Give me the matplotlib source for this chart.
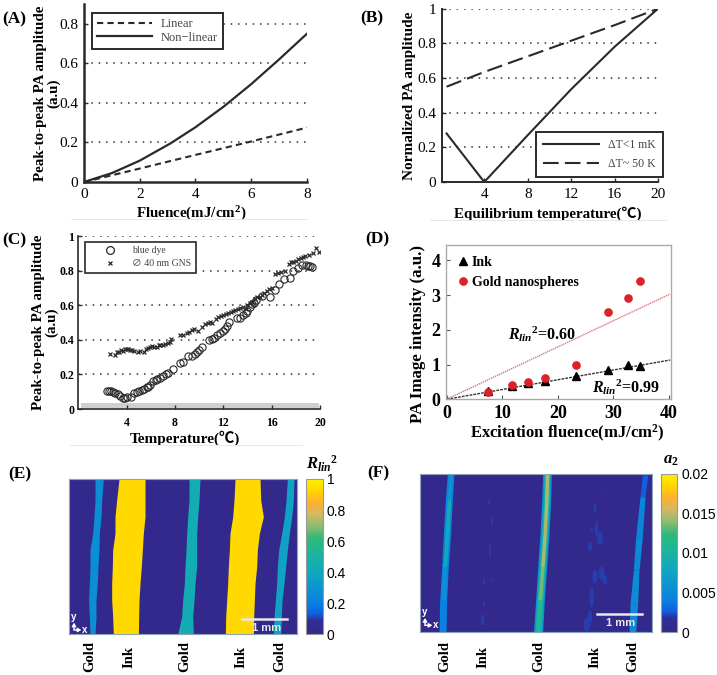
import matplotlib
matplotlib.use('Agg')
import matplotlib.pyplot as plt
from matplotlib.colors import LinearSegmentedColormap
from matplotlib.lines import Line2D
from matplotlib.cm import ScalarMappable
from matplotlib.colors import Normalize
from matplotlib.patches import Rectangle, Ellipse

plt.rcParams['font.family'] = ['Liberation Serif', 'Noto Sans CJK SC', 'DejaVu Sans']
plt.rcParams['mathtext.fontset'] = 'custom'
plt.rcParams['mathtext.rm'] = 'Liberation Serif:bold'
plt.rcParams['mathtext.it'] = 'Liberation Serif:italic:bold'
plt.rcParams['mathtext.bf'] = 'Liberation Serif:bold'

W, H = 717, 675
DARK = '#2a2a2a'

# (A)
a_x_lin = [0, 2, 4, 6, 8]
a_y_lin = [0, 0.068, 0.137, 0.205, 0.275]
a_x_non = [0, 1, 2, 3.1, 4, 5, 6, 7, 8]
a_y_non = [0, 0.045, 0.108, 0.195, 0.277, 0.38, 0.495, 0.62, 0.75]

# (B)
b_x_solid = [0.53, 4, 8, 12, 16, 20]
b_y_solid = [0.28, 0, 0.27, 0.535, 0.78, 1]
b_x_dash = [0.53, 4, 8, 12, 16, 20]
b_y_dash = [0.55, 0.635, 0.725, 0.815, 0.905, 1]

# (C)
c_x_dye = [2.35, 2.5, 2.7, 2.85, 3.05, 3.25, 3.45, 3.67, 3.85, 4.05, 4.35, 4.65, 4.85, 5.05, 5.25, 5.4, 5.65,
           5.8, 5.95, 6.2, 6.4, 6.55, 6.8, 7, 7.25, 7.45, 7.8, 8.4, 8.65, 9.05, 9.4, 9.65, 9.85, 10, 10.2,
           10.85, 11.05, 11.25, 11.5, 11.75, 12, 12.15, 12.3, 12.45, 13.1, 13.35, 13.65, 13.85, 14, 14.2,
           14.4, 14.55, 14.7, 15.2, 15.9, 16.3, 16.6, 17, 17.5, 17.8, 18.2, 18.5, 18.85, 19.0, 19.15, 19.35]
c_y_dye = [0.106, 0.106, 0.104, 0.10, 0.095, 0.085, 0.075, 0.065, 0.063, 0.068, 0.07, 0.09, 0.097, 0.105,
           0.108, 0.115, 0.125, 0.13, 0.14, 0.16, 0.165, 0.175, 0.18, 0.19, 0.2, 0.21, 0.23, 0.265, 0.27,
           0.305, 0.305, 0.32, 0.33, 0.34, 0.36, 0.40, 0.405, 0.41, 0.43, 0.44, 0.45, 0.465, 0.48, 0.505,
           0.525, 0.525, 0.545, 0.555, 0.565, 0.59, 0.605, 0.615, 0.63, 0.655, 0.65, 0.69, 0.725, 0.75,
           0.76, 0.795, 0.815, 0.83, 0.83, 0.828, 0.825, 0.82]
c_x_gns = [2.6, 3.0, 3.2, 3.4, 3.55, 3.7, 3.85, 4.0, 4.15, 4.3, 4.45, 4.6, 4.9, 5.1, 5.4, 5.6, 5.75, 5.9, 6.1, 6.3,
           6.5, 6.65, 6.8, 7.0, 7.2, 7.4, 7.55, 7.7, 8.4, 8.7, 9.0, 9.2, 9.4, 9.6, 9.9, 10.2, 10.5, 10.7, 10.9, 11.1,
           11.4, 11.6, 11.8, 12.0, 12.2, 12.4, 12.6, 12.8, 13.0, 13.2, 13.4, 13.6, 13.85, 14.0, 14.2, 14.4, 14.6,
           14.8, 15.0, 15.2, 15.4, 15.6, 15.8, 16.05, 16.3, 16.5, 16.8, 17.1, 17.4, 17.6, 17.8, 18.0, 18.2, 18.4,
           18.6, 18.8, 19.1, 19.4, 19.7, 19.9]
c_y_gns = [0.32, 0.31, 0.33, 0.33, 0.34, 0.335, 0.345, 0.345, 0.345, 0.34, 0.34, 0.335, 0.33, 0.335, 0.33, 0.345,
           0.35, 0.36, 0.365, 0.36, 0.36, 0.37, 0.37, 0.37, 0.375, 0.38, 0.39, 0.405, 0.43, 0.425, 0.44, 0.445,
           0.455, 0.46, 0.45, 0.475, 0.49, 0.50, 0.505, 0.495, 0.52, 0.53, 0.54, 0.545, 0.55, 0.555, 0.56, 0.565,
           0.575, 0.58, 0.585, 0.59, 0.58, 0.60, 0.61, 0.62, 0.635, 0.645, 0.65, 0.66, 0.67, 0.68, 0.695, 0.70,
           0.78, 0.785, 0.79, 0.80, 0.84, 0.85, 0.85, 0.855, 0.865, 0.875, 0.88, 0.885, 0.89, 0.90, 0.93, 0.91]

# (D)
d_x = [7.5, 11.7, 14.6, 17.7, 23.3, 29, 32.6, 34.8]
d_ink = [0.25, 0.38, 0.46, 0.52, 0.68, 0.84, 1.0, 0.96]
d_gold = [0.2, 0.4, 0.5, 0.6, 1.0, 2.5, 2.92, 3.4]
d_fit_x = [0, 40.2]
d_fit_ink = [0, 1.13]
d_fit_gold = [0, 3.03]

# (E) stripe edges, read in picture units
e_rows = [87, 150, 200, 250, 300, 350, 400, 450, 500, 553]
e_gold1 = ([285, 285, 282, 278, 270, 270, 268, 266, 268, 270], [310, 305, 303, 298, 297, 294, 292, 288, 288, 285])
e_ink1 = ([357, 350, 345, 345, 338, 337, 335, 335, 338, 340], [435, 435, 435, 430, 427, 424, 420, 417, 416, 415])
e_gold2 = ([567, 567, 563, 560, 558, 555, 553, 548, 545, 533], [600, 597, 593, 590, 590, 590, 585, 582, 578, 580])
e_ink2 = ([705, 702, 698, 690, 688, 685, 683, 680, 677, 676], [780, 782, 790, 778, 772, 770, 765, 763, 761, 760])
e_gold3 = ([862, 858, 853, 845, 836, 832, 830, 826, 822, 820], [882, 880, 875, 868, 862, 857, 852, 846, 844, 842])
e_values = [0.27, 0.93, 0.44, 0.93, 0.37]
e_labels = ['Gold', 'Ink', 'Gold', 'Ink', 'Gold']
e_label_x = [270, 388, 553, 722, 838]
e_ticks = [0, 0.2, 0.4, 0.6, 0.8, 1]
e_ticklabels = ['0', '0.2', '0.4', '0.6', '0.8', '1']

# (F) stripe edges, with one colour per stretch between rows
f_rows = [71, 150, 250, 350, 450, 546]
f_gold1 = ([262, 256, 250, 245, 239, 237], [282, 277, 272, 265, 260, 258])
f_gold1_core = ([267, 261, 255, 249, 243, 242], [277, 272, 267, 260, 256, 253])
f_gold1_vals = [0.006, 0.0085, 0.008, 0.0055, 0.004]
f_gold2 = ([548, 545, 540, 533, 527, 520], [574, 572, 567, 560, 553, 548])
f_gold2_mid = ([552, 550, 545, 538, 530, 525], [570, 568, 563, 556, 549, 544])
f_gold2_core = ([556, 554, 549, 542, 534, 530], [566, 564, 559, 552, 545, 538])
f_gold2_vals = [0.0145, 0.0145, 0.0145, 0.0135, 0.011]
f_gold3_rows = [75, 140, 260, 360, 460, 546]
f_gold3 = ([847, 840, 827, 820, 810, 807], [863, 855, 847, 837, 833, 827])
f_gold3_vals = [0.0026, 0.0045, 0.005, 0.0052, 0.005]
f_speck_x = [387, 395, 390, 362, 373, 393, 373, 368, 735, 705, 695, 710, 720, 690, 725, 735, 705, 695, 680, 690]
f_speck_y = [155, 210, 300, 282, 395, 390, 460, 510, 130, 175, 240, 235, 265, 290, 370, 390, 380, 440, 525, 500]
f_speck_w = [10, 4, 5, 3, 8, 5, 6, 10, 4, 8, 8, 10, 20, 14, 18, 12, 16, 14, 20, 14]
f_speck_h = [16, 40, 50, 6, 20, 8, 18, 34, 8, 30, 10, 50, 40, 30, 40, 30, 40, 60, 40, 40]
f_labels = ['Gold', 'Ink', 'Gold', 'Ink', 'Gold']
f_label_x = [255, 370, 535, 705, 818]
f_ticks = [0, 0.005, 0.01, 0.015, 0.02]
f_ticklabels = ['0', '0.005', '0.01', '0.015', '0.02']

cbar_pos = [0, 0.09, 0.13, 0.2, 0.4, 0.55, 0.62, 0.7, 0.78, 0.85, 0.92, 1]
cbar_col = ['#33298c', '#2f2f96', '#1060e0', '#0a80e0', '#10a8c0', '#20b890', '#30b878', '#90bc70',
            '#d8b860', '#fdb030', '#ffd400', '#fff000']
cmap = LinearSegmentedColormap.from_list('parula_like', list(zip(cbar_pos, cbar_col)))


def ax_px(l, t, r, b):
    return fig.add_axes([l / W, 1 - b / H, (r - l) / W, (b - t) / H])


def line_plot_style(ax, lw=1.8):
    for s in ['top', 'right']:
        ax.spines[s].set_visible(False)
    for s in ['left', 'bottom']:
        ax.spines[s].set_linewidth(lw)
        ax.spines[s].set_color(DARK)
    ax.tick_params(direction='in', length=3, width=1, color=DARK, labelsize=11, pad=4)
    ax.grid(False)


def dots(ax, ys, x0, x1):
    ax.hlines(ys, x0, x1, colors='#333333', linewidth=1.1, linestyles=(0, (1, 3.8)), zorder=1)


fig = plt.figure(figsize=(W / 100, H / 100), dpi=100)

# (A)
ax = ax_px(84, 4, 307, 182)
ax.plot(a_x_lin, a_y_lin, color=DARK, lw=1.5, ls=(0, (3, 2)))
ax.plot(a_x_non, a_y_non, color=DARK, lw=1.6)
dots(ax, [0.2, 0.4, 0.6, 0.8], 0, 8)
ax.set_xlim(0, 8)
ax.set_ylim(0, 0.9)
ax.set_xticks([0, 2, 4, 6, 8])
ax.set_yticks([0, 0.2, 0.4, 0.6, 0.8])
ax.set_yticklabels(['0', '0.2', '0.4', '0.6', '0.8'])
line_plot_style(ax)
ax.set_xlabel('Fluence(mJ/cm$^{2}$)', fontweight='bold', fontsize=10.8, labelpad=3, x=0.48)
ax.set_ylabel('Peak-to-peak PA amplitude\n(a.u)', fontweight='bold', fontsize=10.8, labelpad=-1, linespacing=1.0)
leg = ax.legend(handles=[Line2D([], [], color=DARK, lw=1.5, ls=(0, (3, 2))), Line2D([], [], color=DARK, lw=1.6)],
                labels=['Linear', 'Non\u2212linear'], loc='upper left', bbox_to_anchor=(0.036, 0.95), fontsize=9,
                fancybox=False, framealpha=1, edgecolor=DARK, borderaxespad=0, handlelength=4.4, labelspacing=0.15,
                borderpad=0.4, handletextpad=0.7)
leg.get_frame().set_linewidth(1.4)
for t in leg.get_texts():
    t.set_color('#444444')

# (B)
ax = ax_px(441.7, 8.7, 658, 182)
ax.plot(b_x_solid, b_y_solid, color=DARK, lw=1.5)
ax.plot(b_x_dash, b_y_dash, color=DARK, lw=1.5, ls=(0, (7.5, 3)))
dots(ax, [0.2, 0.4, 0.6, 0.8, 1], 0.08, 20)
ax.set_xlim(0.08, 20)
ax.set_ylim(0, 1)
ax.set_xticks([4, 8, 12, 16, 20])
ax.set_yticks([0, 0.2, 0.4, 0.6, 0.8, 1])
ax.set_yticklabels(['0', '0.2', '0.4', '0.6', '0.8', '1'])
line_plot_style(ax, 1.4)
ax.set_xlabel('Equilibrium temperature(\u2103)', fontweight='bold', fontsize=10.8, labelpad=4, x=0.49)
ax.set_ylabel('Normalized PA amplitude', fontweight='bold', fontsize=11, labelpad=1)
leg = ax.legend(handles=[Line2D([], [], color=DARK, lw=1.5), Line2D([], [], color=DARK, lw=1.5, ls=(0, (7.5, 3)))],
                labels=['\u0394T<1 mK', '\u0394T~ 50 K'], loc='lower right', bbox_to_anchor=(1.023, 0.03), fontsize=8.5,
                fancybox=False, framealpha=1, edgecolor=DARK, borderaxespad=0, handlelength=4.7, labelspacing=0.55,
                borderpad=0.6, handletextpad=0.8)
leg.get_frame().set_linewidth(1.4)
for t in leg.get_texts():
    t.set_color('#444444')

# (C)
ax = ax_px(78.3, 236, 320, 409)
ax.add_patch(Rectangle((0.2, 0.005), 19.7, 0.028, color='#cfcfcf', lw=0, zorder=1))
dots(ax, [0.2, 0.4, 0.6, 0.8, 1], 0, 20)
ax.plot(c_x_gns, c_y_gns, ls='none', marker='x', ms=3.3, mew=0.9, color=DARK, zorder=3)
ax.plot(c_x_dye, c_y_dye, ls='none', marker='o', ms=5.2, mew=0.8, mfc='none', mec=DARK, zorder=3)
ax.set_xlim(0, 20)
ax.set_ylim(0, 1)
ax.set_xticks([4, 8, 12, 16, 20])
ax.set_yticks([0, 0.2, 0.4, 0.6, 0.8, 1])
ax.set_yticklabels(['0', '0.2', '0.4', '0.6', '0.8', '1'])
line_plot_style(ax, 1.2)
ax.tick_params(axis='x', labelsize=8.5, pad=6)
ax.tick_params(axis='y', labelsize=8.5, pad=3)
for t in ax.get_xticklabels() + ax.get_yticklabels():
    t.set_fontweight('bold')
ax.set_xlabel('Temperature(\u2103)', fontweight='bold', fontsize=11, labelpad=1, x=0.44)
ax.set_ylabel('Peak-to-peak PA amplitude\n(a.u)', fontweight='bold', fontsize=10.8, labelpad=1, linespacing=1.0)
leg = ax.legend(handles=[Line2D([], [], ls='none', marker='o', ms=5.6, mfc='none', mec=DARK, mew=0.9),
                         Line2D([], [], ls='none', marker='x', ms=3.3, mew=0.9, color=DARK)],
                labels=['blue dye', '\u2205 40 nm GNS'], loc='upper left', bbox_to_anchor=(0.028, 0.965), fontsize=7,
                fancybox=False, framealpha=1, edgecolor=DARK, borderaxespad=0, handlelength=4.3, labelspacing=0.4,
                borderpad=0.45, handletextpad=0.1)
leg.get_frame().set_linewidth(1.2)
for t in leg.get_texts():
    t.set_color('#444444')

# (D)
ax = ax_px(446, 245, 670.7, 399.3)
ax.plot(d_fit_x, d_fit_gold, color='#d8777f', lw=1.0, ls=(0, (1, 0.6)))
ax.plot(d_fit_x, d_fit_ink, color='#333333', lw=1.0, ls=(0, (2, 0.8)))
ax.plot(d_x, d_ink, ls='none', marker='^', ms=5.5, color='black', label='Ink', zorder=3)
ax.plot(d_x, d_gold, ls='none', marker='o', ms=5.2, color='#dd2127', label='Gold nanospheres', zorder=4)
ax.set_xlim(-0.1, 40.3)
ax.set_ylim(0, 4.44)
ax.set_xticks([0, 10, 20, 30, 40])
ax.set_yticks([0, 1, 2, 3, 4])
for s in ax.spines.values():
    s.set_color('#aaaaaa')
    s.set_linewidth(1.0)
ax.tick_params(direction='in', length=3, color='#555555', labelsize=13, pad=4)
for t in ax.get_xticklabels() + ax.get_yticklabels():
    t.set_fontweight('bold')
ax.set_xlabel('Excitation fluence(mJ/cm$^{2}$)', fontweight='bold', fontsize=12, labelpad=1, x=0.54)
ax.set_ylabel('PA Image intensity (a.u.)', fontweight='bold', fontsize=12.2, labelpad=4, y=0.42)
leg = ax.legend(loc='upper left', bbox_to_anchor=(0.022, 0.965), frameon=False, borderaxespad=0, handlelength=0.9,
                labelspacing=0.5, handletextpad=0.2, prop={'weight': 'bold', 'size': 10})
ax.text(11, 1.72, '$R_{lin}{}^{2}$=0.60', fontweight='bold', fontsize=11.5)
ax.text(26.1, 0.18, '$R_{lin}{}^{2}$=0.99', fontweight='bold', fontsize=11.5)


def stripe(ax, rows, edges, value, cm, norm):
    ax.fill_betweenx(rows, edges[0], edges[1], color=cm(norm(value)), lw=0)


def stripe_parts(ax, rows, edges, values, cm, norm):
    # one patch per stretch so the colour can change down the stripe
    for i, value in enumerate(values):
        ax.fill_betweenx(rows[i:i + 2], edges[0][i:i + 2], edges[1][i:i + 2], color=cm(norm(value)), lw=0)


def axes_mark(ax, x, y, size):
    style = dict(arrowstyle='-|>,head_width=0.12,head_length=0.2', color='white', lw=1, shrinkA=0, shrinkB=0)
    ax.annotate('', xy=(x, y - size), xytext=(x, y), arrowprops=style)
    ax.annotate('', xy=(x + size, y), xytext=(x, y), arrowprops=style)
    ax.text(x, y - size - 2, 'y', color='white', fontsize=7, fontweight='bold', family='Liberation Sans', ha='center', va='bottom')
    ax.text(x + size + 3, y, 'x', color='white', fontsize=7, fontweight='bold', family='Liberation Sans', ha='left', va='center')


def map_axes(l, t, r, b, x0, x1, y0, y1, cm, norm):
    ax = ax_px(l, t, r, b)
    ax.set_xlim(x0, x1)
    ax.set_ylim(y1, y0)
    ax.set_xticks([])
    ax.set_yticks([])
    ax.set_facecolor(cm(norm(0)))
    for s in ax.spines.values():
        s.set_color('#8fa3b8')
        s.set_linewidth(0.8)
    return ax


def colorbar(l, t, r, b, cm, norm, ticks, labels):
    cax = ax_px(l, t, r, b)
    cb = fig.colorbar(ScalarMappable(norm=norm, cmap=cm), cax=cax)
    cb.set_ticks(ticks)
    cb.set_ticklabels(labels)
    cax.tick_params(length=0, labelsize=10, pad=3)
    for t in cax.get_yticklabels():
        t.set_family('Liberation Sans')
    cb.outline.set_edgecolor('#999999')
    cb.outline.set_linewidth(0.8)


# (E)
norm_e = Normalize(0, 1)
ax = map_axes(69, 479, 296.7, 634.3, 207, 890, 87, 553, cmap, norm_e)
for edges, value in zip([e_gold1, e_ink1, e_gold2, e_ink2, e_gold3], e_values):
    stripe(ax, e_rows, edges, value, cmap, norm_e)
ax.plot([727, 862], [507, 507], color='#e8e8e8', lw=1.8)
ax.text(800, 535, '1 mm', color='#e8e8e8', fontsize=8, fontweight='bold', family='Liberation Sans', ha='center', va='center')
axes_mark(ax, 222, 540, 22)
colorbar(306, 479, 322.7, 634.3, cmap, norm_e, e_ticks, e_ticklabels)
for x, lab in zip(e_label_x, e_labels):
    fig.text(x / 3 / W, 1 - 657 / H, lab, rotation=90, ha='center', va='center', fontsize=10.5, fontweight='bold')
fig.text(306 / W, 1 - 464 / H, '$R_{lin}{}^{2}$', fontsize=12, ha='left', va='center')

# (F)
norm_f = Normalize(0, 0.02)
ax = map_axes(420, 473.7, 651.7, 632, 180, 875, 71, 546, cmap, norm_f)
stripe(ax, f_rows, f_gold1, 0.0042, cmap, norm_f)
stripe_parts(ax, f_rows, f_gold1_core, f_gold1_vals, cmap, norm_f)
stripe(ax, f_rows, f_gold2, 0.0055, cmap, norm_f)
stripe(ax, f_rows, f_gold2_mid, 0.0095, cmap, norm_f)
stripe_parts(ax, f_rows, f_gold2_core, f_gold2_vals, cmap, norm_f)
stripe_parts(ax, f_gold3_rows, f_gold3, f_gold3_vals, cmap, norm_f)
for x, y, w, h in zip(f_speck_x, f_speck_y, f_speck_w, f_speck_h):
    ax.add_patch(Ellipse((x, y), w, h, color=cmap(norm_f(0.0021)), lw=0))
ax.plot([711, 846], [492, 492], color='#e8e8e8', lw=1.8)
ax.text(782, 520, '1 mm', color='#e8e8e8', fontsize=8, fontweight='bold', family='Liberation Sans', ha='center', va='center')
axes_mark(ax, 195, 526, 22)
colorbar(661, 473.7, 677.3, 632, cmap, norm_f, f_ticks, f_ticklabels)
for x, lab in zip(f_label_x, f_labels):
    fig.text((360 + x / 3) / W, 1 - 657 / H, lab, rotation=90, ha='center', va='center', fontsize=10.5, fontweight='bold')
fig.text(663 / W, 1 - 460 / H, '$a_{2}$', fontsize=12, ha='left', va='center')

# panel letters
for txt, x, y in [('(A)', 2, 19), ('(B)', 360, 18), ('(C)', 2, 240), ('(D)', 365, 239), ('(E)', 8, 474), ('(F)', 367, 473)]:
    fig.text(x / W, 1 - y / H, txt, fontsize=12.5, fontweight='bold', ha='left', va='center')

# faint bands under the panels
for x0, x1, y in [(71, 308, 220), (430, 667, 221), (70, 303, 446)]:
    fig.add_artist(Rectangle((x0 / W, 1 - y / H), (x1 - x0) / W, 1.5 / H, color='#e8e8e8', lw=0, transform=fig.transFigure))

fig.savefig('out.png', dpi=100)
